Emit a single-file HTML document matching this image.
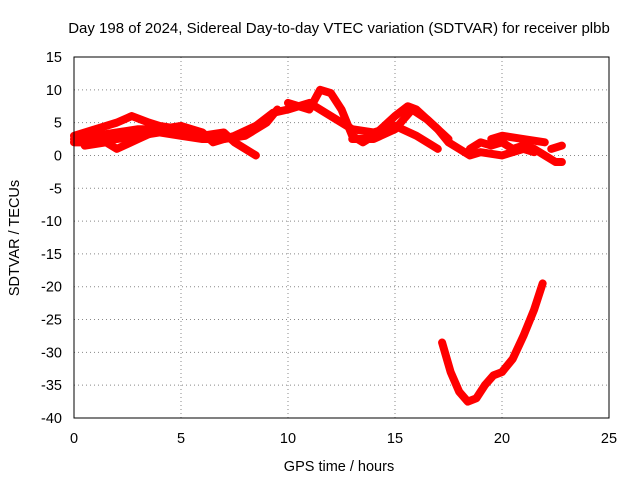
<!DOCTYPE html>
<html><head><meta charset="utf-8"><style>
body{margin:0;background:#fff;}
text{font-family:"Liberation Sans",sans-serif;font-size:14.5px;fill:#000;}
</style></head><body>
<svg id="chart" width="640" height="480">
<text x="339" y="33" text-anchor="middle" style="font-size:15px">Day 198 of 2024, Sidereal Day-to-day VTEC variation (SDTVAR) for receiver plbb</text>
<text x="339" y="471" text-anchor="middle">GPS time / hours</text>
<text transform="translate(19,238) rotate(-90)" text-anchor="middle">SDTVAR / TECUs</text>
<g id="grid"></g><g id="marks"></g>
<rect x="74" y="57" width="535" height="361" fill="none" stroke="#000"/>
</svg>
<script>
const xTicks=[0,5,10,15,20,25];
const yTicks=[15,10,5,0,-5,-10,-15,-20,-25,-30,-35,-40];
const arc1=[[0,2],[1,2],[2,2.5],[3,3],[4,3.5],[5,3],[6,2.5],[7,2.5],[8,3],[9,5],[9.5,7]];
const arc2=[[0,3],[1,4],[2,5],[2.7,6],[3.5,5],[4,4.5],[5,4],[6,3],[7,3.5],[7.5,2],[8.5,0]];
const arc3=[[0.5,1.5],[1.5,2],[2,1],[3,2.5],[4,4],[5,4.5],[6,3.5],[6.5,2],[7.5,3],[8.5,4.5],[9.3,6.5],[10,7],[11,8],[12,6],[13,4],[14,3.5],[15,4.5],[16,3],[17,1]];
const arc4=[[10,8],[11,7],[11.5,10],[12,9.5],[12.5,7],[13,3],[13.5,2],[14,3],[15,6],[15.6,7.5],[16,7],[17,4],[17.5,2],[18,1],[18.5,0],[19,0.5],[20,0],[21,1],[21.5,0.5]];
const arc5=[[18.5,1],[19,2],[19.5,1.5],[20,2],[20.5,1],[21,1.5],[21.5,1]];
const arc6=[[19.5,2.5],[20,3],[21,2.5],[22,2]];
const arc7=[[21.5,1],[22,0],[22.5,-1],[22.8,-1]];
const arc8=[[22.3,1],[22.8,1.5]];
const arc9=[[17.2,-28.5],[17.6,-33],[18,-36],[18.4,-37.5],[18.8,-37],[19.2,-35],[19.6,-33.5],[20,-33],[20.5,-31],[21,-27.5],[21.5,-23.5],[21.9,-19.5]];
const arc10=[[0,2.5],[1,3],[2,3.5],[3,4],[4,4],[5,3.5],[6,3]];
const arc11=[[13,2.5],[14,2.5],[15,4],[15.8,7],[16.5,5.5],[17.5,2.5]];
const arcs=[arc1,arc2,arc3,arc4,arc5,arc6,arc7,arc8,arc9,arc10,arc11];
const X=v=>74+v*535/25, Y=v=>57+(15-v)*361/55;
const NS='http://www.w3.org/2000/svg';
const grid=document.getElementById('grid'), marks=document.getElementById('marks');
function mk(t,a,p){const e=document.createElementNS(NS,t);for(const k in a)e.setAttribute(k,a[k]);p.appendChild(e);return e;}
xTicks.forEach(t=>{
 const l=mk('line',{x1:X(t),x2:X(t),y1:57,y2:418,stroke:'#888','stroke-dasharray':'1,3'},grid);
 
 
 const tx=mk('text',{x:X(t),y:443,'text-anchor':'middle'},grid);tx.textContent=t;
 
 
});
yTicks.forEach(t=>{
 const l=mk('line',{x1:74,x2:609,y1:Y(t),y2:Y(t),stroke:'#888','stroke-dasharray':'1,3'},grid);
 
 
 const tx=mk('text',{x:62,y:Y(t)+5,'text-anchor':'end'},grid);tx.textContent=t;
 
 
});
arcs.forEach(a=>{
 const p=mk('polyline',{points:a.map(d=>X(d[0])+','+Y(d[1])).join(' '),fill:'none',stroke:'#f00','stroke-width':8,'stroke-linejoin':'round','stroke-linecap':'round'},marks);
 
 
});
</script>
</body></html>
